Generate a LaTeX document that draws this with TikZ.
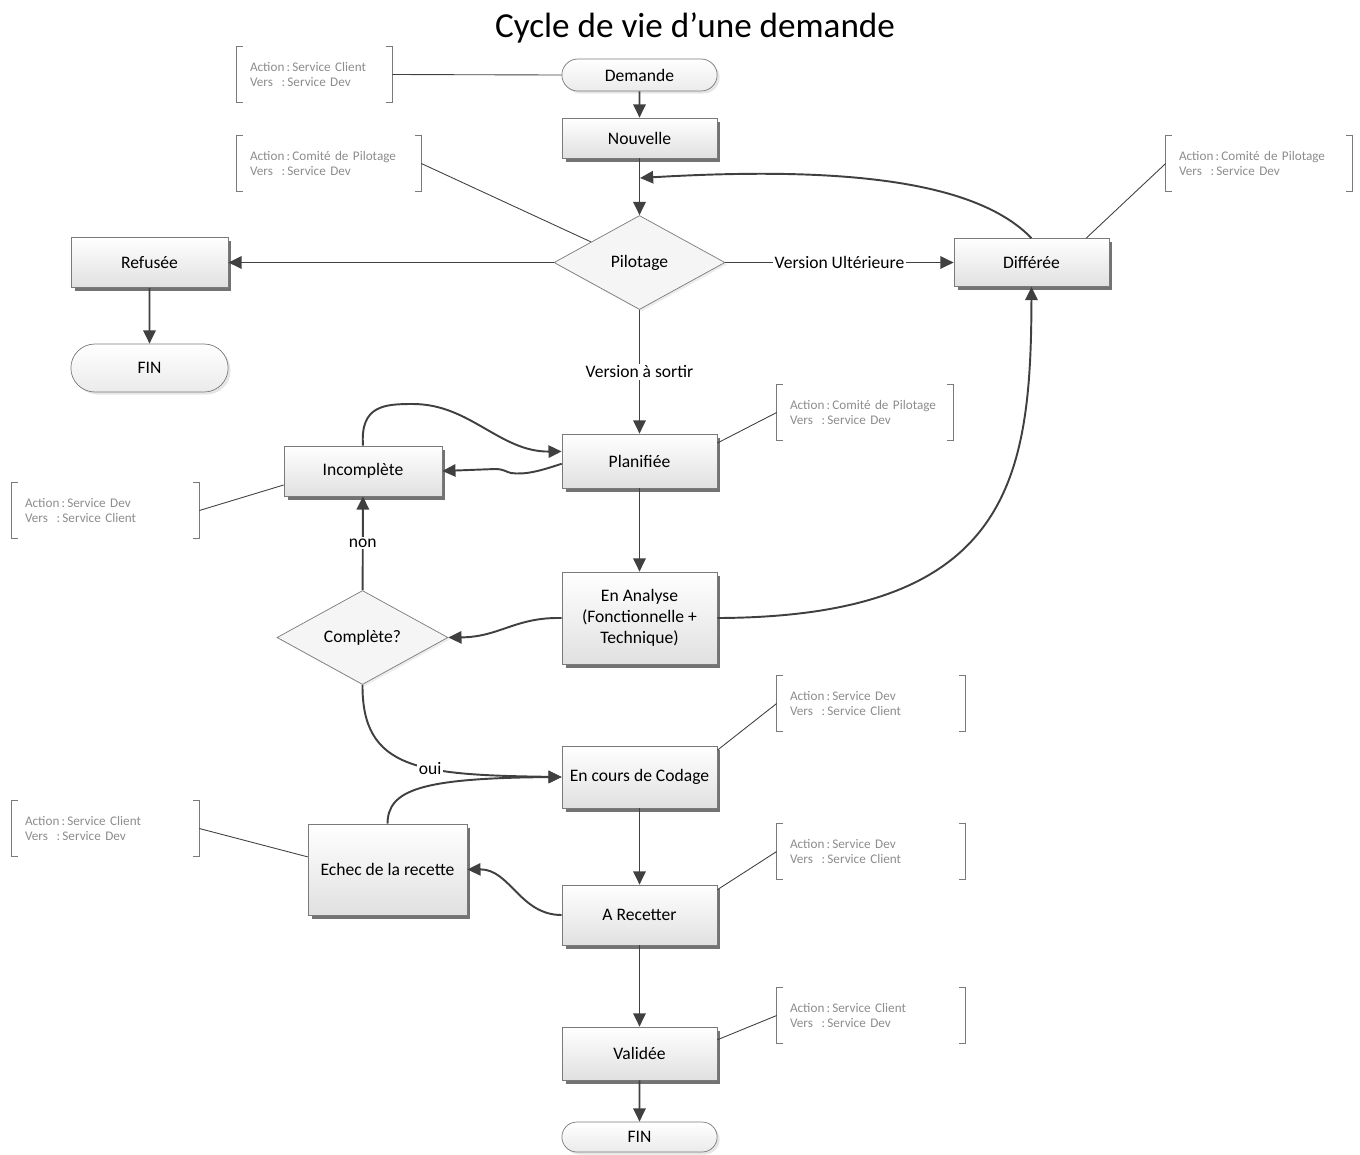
\documentclass[tikz,border=0pt]{standalone}
\usepackage{fontspec}
\setmainfont{Carlito}
\usetikzlibrary{shapes,arrows.meta,positioning,shadows}
\definecolor{linegray}{HTML}{404040}
\definecolor{boxgray}{HTML}{7A7A7A}
\definecolor{notegray}{HTML}{8C8C8C}
\tikzset{
    state/.style={draw=boxgray, rectangle, top color=white, bottom color=black!12,
                  minimum width=3.1cm, align=center, font=\fontsize{10}{12}\selectfont,
                  drop shadow={shadow xshift=0.07cm, shadow yshift=-0.07cm, fill=black!55, opacity=1}},
    term/.style={draw=boxgray, rounded rectangle, top color=white, bottom color=black!8,
                 minimum width=3.34cm, font=\fontsize{10}{12}\selectfont,
                 drop shadow={shadow xshift=0.05cm, shadow yshift=-0.05cm, opacity=0.2}},
    decision/.style={draw=boxgray, diamond, aspect=1.8, fill=black!4, inner sep=0pt,
                     minimum width=3.42cm, minimum height=1.88cm, font=\fontsize{10}{12}\selectfont,
                     drop shadow={shadow xshift=0.04cm, shadow yshift=-0.04cm, opacity=0.15}},
    flow/.style={draw=linegray, line width=1.1pt, -{Triangle[length=7.5pt, width=7pt]}},
    lbl/.style={fill=white, inner sep=1pt, font=\fontsize{10}{12}\selectfont},
    note/.style={align=left, text=notegray, font=\fontsize{7.5}{9}\selectfont,
                 minimum height=1.1cm, inner xsep=0.26cm},
    bracket/.style={draw=boxgray, line width=0.6pt},
    noteline/.style={draw=linegray, line width=0.5pt},
}

\begin{document}
\begin{tikzpicture}[x=0.02cm, y=-0.02cm]
    \useasboundingbox (0,0) rectangle (1360,1154);

    \node[font=\fontsize{20}{24}\selectfont] (title) at (695,28) {Cycle de vie d’une demande};

    % Main column
    \node[term, minimum height=0.64cm] (Demande) at (639.5,75) {Demande};
    \node[state, minimum height=0.8cm] (Nouvelle) at (639.5,138) {Nouvelle};
    \node[decision] (Pilotage) at (639.5,262.5) {Pilotage};
    \node[state, minimum height=1.08cm] (Planifiee) at (639.5,461) {Planifiée};
    \node[state, minimum height=1.84cm] (Analyse) at (639.5,618) {En Analyse\\(Fonctionnelle +\\Technique)};
    \node[state, minimum height=1.24cm] (Codage) at (639.5,777) {En cours de Codage};
    \node[state, minimum height=1.2cm] (Recetter) at (639.5,915) {A Recetter};
    \node[state, minimum height=1.06cm] (Validee) at (639.5,1053.5) {Validée};
    \node[term, minimum height=0.6cm] (FinB) at (639.5,1137) {FIN};

    % Side states
    \node[state, minimum width=3.14cm, minimum height=1.0cm] (Refusee) at (149.5,262.5) {Refusée};
    \node[term, minimum width=3.38cm, minimum height=0.96cm] (FinA) at (149.5,368) {FIN};
    \node[state, minimum height=0.96cm] (Differee) at (1031.5,262.5) {Différée};
    \node[state, minimum width=3.16cm, minimum height=1.0cm] (Incomplete) at (363,471) {Incomplète};
    \node[decision] (Complete) at (362.5,637.5) {Complète?};
    \node[state, minimum width=3.18cm, minimum height=1.82cm] (Echec) at (387.5,869.5) {Echec de la recette};

    % Notes
    \node[note, text width=2.58cm] (nDemande) at (314.5,74.5) {\mbox{Action\thinspace:\thinspace Service Client}\\\mbox{Vers\ \ :\thinspace Service Dev}};
    \node[note, text width=3.16cm] (nPilotage) at (329,163.5) {\mbox{Action\thinspace:\thinspace Comité de Pilotage}\\\mbox{Vers\ \ :\thinspace Service Dev}};
    \node[note, text width=3.2cm] (nDifferee) at (1259,163.5) {\mbox{Action\thinspace:\thinspace Comité de Pilotage}\\\mbox{Vers\ \ :\thinspace Service Dev}};
    \node[note, text width=3.0cm] (nPlanifiee) at (865,412.5) {\mbox{Action\thinspace:\thinspace Comité de Pilotage}\\\mbox{Vers\ \ :\thinspace Service Dev}};
    \node[note, text width=3.22cm] (nIncomplete) at (105.5,510.5) {\mbox{Action\thinspace:\thinspace Service Dev}\\\mbox{Vers\ \ :\thinspace Service Client}};
    \node[note, text width=3.24cm] (nCodage) at (871,703.5) {\mbox{Action\thinspace:\thinspace Service Dev}\\\mbox{Vers\ \ :\thinspace Service Client}};
    \node[note, text width=3.24cm] (nRecetter) at (871,851.5) {\mbox{Action\thinspace:\thinspace Service Dev}\\\mbox{Vers\ \ :\thinspace Service Client}};
    \node[note, text width=3.24cm] (nValidee) at (871,1015.5) {\mbox{Action\thinspace:\thinspace Service Client}\\\mbox{Vers\ \ :\thinspace Service Dev}};
    \node[note, text width=3.22cm] (nEchec) at (105.5,828.5) {\mbox{Action\thinspace:\thinspace Service Client}\\\mbox{Vers\ \ :\thinspace Service Dev}};

    \foreach \n in {nDemande,nPilotage,nDifferee,nPlanifiee,nIncomplete,nCodage,nRecetter,nValidee,nEchec}{
        \draw[bracket] ([xshift=3.4pt]\n.north west) -| (\n.south west) -- ++(6,0);
        \draw[bracket] ([xshift=-3.4pt]\n.north east) -| (\n.south east) -- ++(-6,0);
    }

    \draw[noteline] (nDemande.east) -- (Demande.west);
    \draw[noteline] (nPilotage.east) -- (Pilotage.157);
    \draw[noteline] (nDifferee.west) -- (Differee.24);
    \draw[noteline] (nPlanifiee.west) -- (Planifiee.13);
    \draw[noteline] (nIncomplete.east) -- (Incomplete.190);
    \draw[noteline] (nCodage.west) -- (Codage.19);
    \draw[noteline] (nRecetter.west) -- (Recetter.18);
    \draw[noteline] (nValidee.west) -- (Validee.10);
    \draw[noteline] (nEchec.east) -- (Echec.171);

    % Flow
    \coordinate (join) at (640,178);
    \draw[flow] (Demande) -- (Nouvelle);
    \draw[flow] (Nouvelle) -- (Pilotage);
    \draw[flow] (Differee.north) .. controls (980,185) and (860,165) .. (join);
    \draw[flow] (Pilotage) -- (Refusee);
    \draw[flow] (Refusee) -- (FinA);
    \draw[flow] (Pilotage) -- node[lbl] {Version Ultérieure} (Differee);
    \draw[flow] (Pilotage) -- node[lbl] {Version à sortir} (Planifiee);

    \draw[flow] (Incomplete.north) .. controls (360,405) and (385,404) .. (413,404)
        .. controls (470,404) and (500,452) .. (Planifiee.173);
    \draw[flow] (Planifiee.182) .. controls (540,471) and (525,475) .. (511,473)
        .. controls (506,472) and (504,469) .. (495,469) -- (Incomplete.east);
    \draw[flow] (Planifiee) -- (Analyse);
    \draw[flow] (Analyse.east) .. controls (1010,617) and (1031,480) .. (Differee.south);
    \draw[flow] (Analyse.west) .. controls (515,617) and (500,637) .. (Complete.east);
    \draw[flow] (Complete) -- node[lbl] {non} (Incomplete);
    \draw[flow] (Complete.south) .. controls (362,770) and (420,775) .. node[lbl, pos=0.6] {oui} (Codage.west);
    \draw[flow] (Echec.north) .. controls (388,790) and (420,778) .. (Codage.west);
    \draw[flow] (Codage) -- (Recetter);
    \draw[flow] (Recetter.west) .. controls (520,915) and (510,869) .. (Echec.east);
    \draw[flow] (Recetter) -- (Validee);
    \draw[flow] (Validee) -- (FinB);
\end{tikzpicture}
\end{document}
